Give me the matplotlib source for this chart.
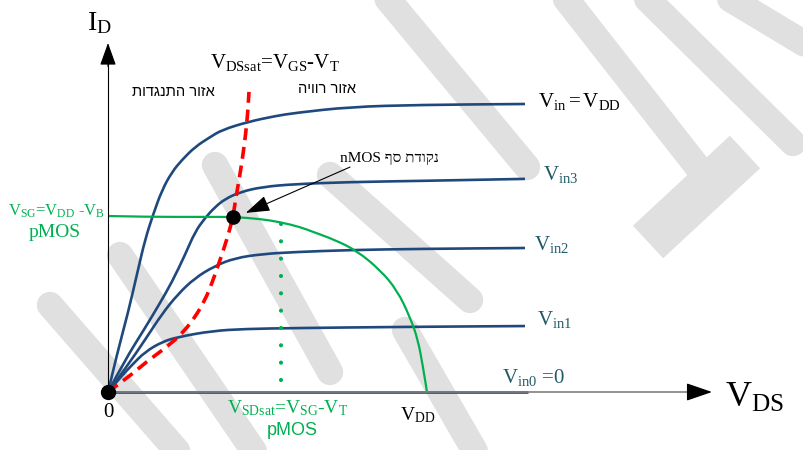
import matplotlib
matplotlib.use('Agg')
import matplotlib.pyplot as plt
from matplotlib.path import Path
from matplotlib.patches import PathPatch

plt.rcParams['mathtext.fontset'] = 'custom'
plt.rcParams['mathtext.rm'] = 'Liberation Serif'
plt.rcParams['mathtext.it'] = 'Liberation Serif:italic'
plt.rcParams['mathtext.bf'] = 'Liberation Serif:bold'
plt.rcParams['font.family'] = ['Liberation Serif', 'DejaVu Sans']

# nMOS output curves: V_DS in volts (V_DD = 5), I_D normalised to the top curve
vds_vdd = [0, .157, .313, .470, .580, .705, .846, 1.003, 1.160, 1.364, 1.599, 1.787, 2.194, 2.618, 2.931, 3.793, 4.890, 6.536]
id_vdd = [0, .146, .274, .424, .528, .615, .701, .764, .806, .851, .885, .910, .938, .958, .969, .990, .997, 1.0]

vds_in3 = [0, .266, .580, .815, 1.003, 1.207, 1.364, 1.520, 1.677, 1.834, 2.069, 2.414, 2.931, 3.793, 4.890, 6.536]
id_in3 = [0, .111, .222, .309, .382, .476, .556, .604, .642, .670, .694, .712, .722, .729, .733, .740]

vds_in2 = [0, .313, .580, .846, 1.097, 1.364, 1.677, 1.991, 2.414, 2.931, 3.793, 4.890, 6.536]
id_in2 = [0, .094, .181, .271, .340, .396, .438, .465, .479, .486, .493, .497, .500]

vds_in1 = [0, .188, .376, .580, .846, 1.097, 1.630, 2.147, 2.931, 4.577, 6.536]
id_in1 = [0, .049, .094, .139, .174, .191, .212, .219, .222, .226, .229]

vds_in0 = [0, 6.58]
id_in0 = [0, 0]

# V_DSsat boundary (red dashed)
vds_sat = [0, .345, .580, 1.003, 1.207, 1.364, 1.520, 1.630, 1.756, 1.881, 1.959, 2.006, 2.100, 2.179, 2.210]
id_sat = [0, .056, .101, .170, .215, .260, .319, .378, .458, .542, .608, .677, .795, .934, 1.042]

# pMOS load curve (green)
vds_p = [0, .658, 1.442, 1.959, 2.382, 2.696, 3.009, 3.213, 3.558, 3.903, 4.263, 4.530, 4.734, 4.859, 4.937, 5.0]
id_p = [.611, .608, .608, .608, .601, .590, .573, .556, .528, .490, .424, .354, .260, .181, .087, 0]

vdd = 5.0
vsd_sat_p = 2.712
vsd_sat_span = [0.042, 0.587]
q_point = (1.959, .608)

# light watermark strokes, in image pixels
watermark = [
    [(376, -15), (527, 167)],
    [(555, -15), (700, 170)],
    [(633, -15), (793, 143)],
    [(707, -15), (840, 65)],
    [(215, 165), (330, 372)],
    [(330, 175), (470, 300)],
    [(405, 330), (480, 460)],
    [(120, 255), (260, 460)],
    [(50, 305), (185, 460)],
]

SX, SY = 63.8, 288.0
blue = '#1F497D'
teal = '#215968'
green = '#00B050'


def smooth(xs, ys, **kw):
    # quadratic bezier through the midpoints of the read points
    pts = list(zip(xs, ys))
    verts = [pts[0]]
    codes = [Path.MOVETO]
    for i in range(1, len(pts) - 1):
        mid = ((pts[i][0] + pts[i + 1][0]) / 2, (pts[i][1] + pts[i + 1][1]) / 2)
        verts += [pts[i], mid]
        codes += [Path.CURVE3, Path.CURVE3]
    verts.append(pts[-1])
    codes.append(Path.LINETO)
    return PathPatch(Path(verts, codes), fill=False, **kw)


fig = plt.figure(figsize=(8.04, 4.5), dpi=100)

bg = fig.add_axes([0, 0, 1, 1])
bg.set_xlim(0, 804)
bg.set_ylim(450, 0)
bg.axis('off')
for band in watermark:
    xs, ys = zip(*band)
    bg.plot(xs, ys, color='#E0E0E0', lw=19, solid_capstyle='round')
bg.plot([648, 745], [242, 152], color='#E0E0E0', lw=32, solid_capstyle='butt')

ax = fig.add_axes([0, 0, 1, 1])
ax.set_xlim(-108 / SX, 696 / SX)
ax.set_ylim(-58 / SY, 392 / SY)
ax.axis('off')
ax.patch.set_alpha(0)

# axes with arrows
ax.plot([0, 0], [0, 1.15], color='black', lw=0.8)
ax.annotate('', xy=(0, 1.212), xytext=(0, 1.13),
            arrowprops=dict(arrowstyle='-|>,head_length=1.4,head_width=0.5',
                            color='black', lw=0.8, mutation_scale=10, shrinkA=0, shrinkB=0))
ax.plot([0, 9.2], [0, 0], color='#7F7F7F', lw=1.2)
ax.annotate('', xy=(9.467, 0), xytext=(9.1, 0),
            arrowprops=dict(arrowstyle='-|>,head_length=1.6,head_width=0.55',
                            color='black', lw=1, mutation_scale=10, shrinkA=0, shrinkB=0))

for xs, ys in [(vds_vdd, id_vdd), (vds_in3, id_in3), (vds_in2, id_in2),
               (vds_in1, id_in1), (vds_in0, id_in0)]:
    ax.add_patch(smooth(xs, ys, edgecolor=blue, lw=1.9, capstyle='butt'))

ax.add_patch(smooth(vds_p, id_p, edgecolor=green, lw=1.6))
ax.plot([vsd_sat_p, vsd_sat_p], vsd_sat_span, color=green, lw=3.0,
        linestyle=(0, (0.01, 4.15)), dash_capstyle='round')
ax.add_patch(smooth(vds_sat, id_sat, edgecolor='red', lw=2.6, linestyle=(0, (3.3, 1.9))))

ax.plot([0], [0], 'o', color='black', ms=10)
ax.plot([q_point[0]], [q_point[1]], 'o', color='black', ms=9.5)

ax.annotate('', xy=(2.16, .622), xytext=(3.793, .781),
            arrowprops=dict(arrowstyle='-|>,head_length=1.5,head_width=0.5',
                            color='black', lw=0.8, mutation_scale=10, shrinkA=0, shrinkB=0))

# labels
ax.text(-0.14, 1.258, r'$\mathrm{I_D}$', fontsize=20, ha='center', va='baseline')
ax.text(9.67, -0.052, r'$\mathrm{V_{DS}}$', fontsize=26, ha='left', va='baseline')
ax.text(0, -0.087, '0', fontsize=15, ha='center', va='baseline')
ax.text(4.86, -0.097, r'$\mathrm{V_{DD}}$', fontsize=14, ha='center', va='baseline')
ax.text(1.599, 1.125, r'$\mathrm{V_{DSsat}}\text{=}\mathrm{V_{GS}}\text{-}\mathrm{V_T}$',
        fontsize=15, ha='left', va='baseline')

sans = ['Liberation Sans', 'DejaVu Sans']
serif = ['Liberation Serif', 'DejaVu Sans']
ax.text(1.019, 1.028, 'אזור התנגדות'[::-1], fontsize=10.5, family=sans, ha='center', va='baseline')
ax.text(3.433, 1.038, 'אזור רוויה'[::-1], fontsize=10.5, family=sans, ha='center', va='baseline')
ax.text(4.404, .799, 'nMOS ' + 'נקודת סף'[::-1], fontsize=11, family=serif, ha='center', va='baseline')

ax.text(6.740, .990, r'$\mathrm{V_{in}=V_{DD}}$', fontsize=15, ha='left', va='baseline')
ax.text(6.818, .736, r'$\mathrm{V_{in3}}$', fontsize=15, color=teal, ha='left', va='baseline')
ax.text(6.677, .493, r'$\mathrm{V_{in2}}$', fontsize=15, color=teal, ha='left', va='baseline')
ax.text(6.724, .233, r'$\mathrm{V_{in1}}$', fontsize=15, color=teal, ha='left', va='baseline')
ax.text(6.176, .031, r'$\mathrm{V_{in0}}\ \text{=0}$', fontsize=15, color=teal, ha='left', va='baseline')

ax.text(-1.567, .611, r'$\mathrm{V_{SG}}\text{=}\mathrm{V_{DD}}\ \text{-}\mathrm{V_B}$',
        fontsize=12, color=green, ha='left', va='baseline')
ax.text(-0.839, .538, 'pMOS', fontsize=14, color=green, family=serif, ha='center', va='baseline')
ax.text(1.865, -0.073, r'$\mathrm{V_{SDsat}}\text{=}\mathrm{V_{SG}}\text{-}\mathrm{V_T}$',
        fontsize=14, color=green, ha='left', va='baseline')
ax.text(2.884, -0.149, 'pMOS', fontsize=13, color=green, family=sans, ha='center', va='baseline')

fig.savefig('out.png', dpi=100)
